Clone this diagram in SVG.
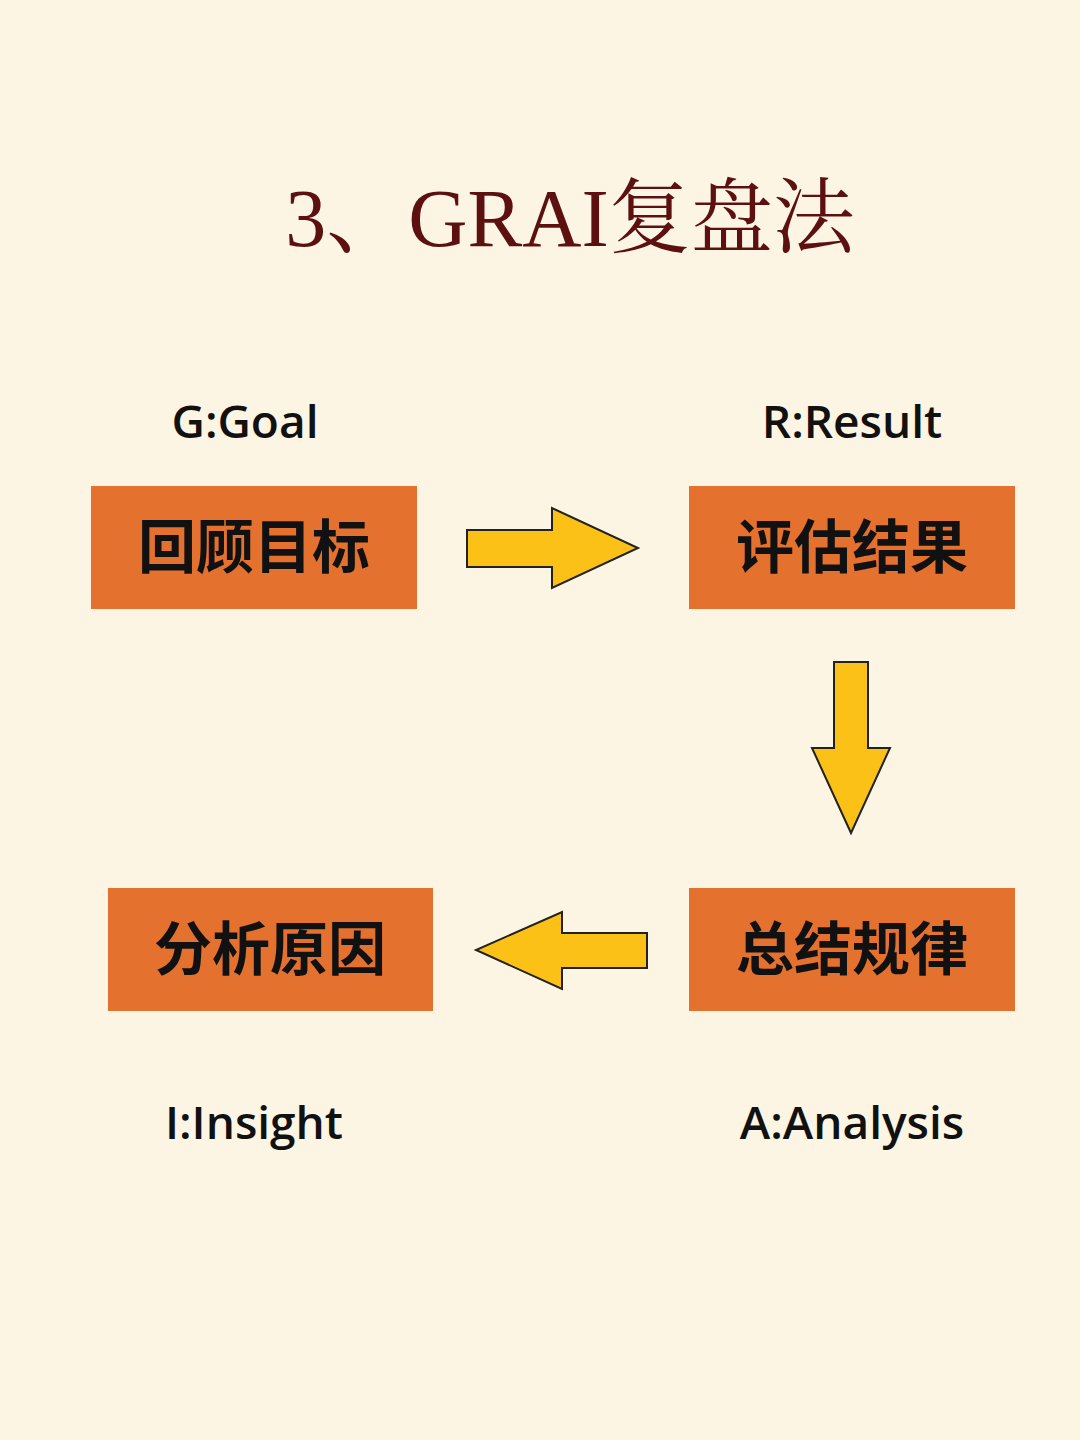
<svg xmlns="http://www.w3.org/2000/svg" width="1080" height="1440" viewBox="0 0 1080 1440">
<style>
.box{fill:#E5712F}
.bt{font-family:"Noto Sans CJK SC",sans-serif;font-weight:700;font-size:58px;fill:#111;text-anchor:middle}
.lb{font-family:"Open Sans","Noto Sans",sans-serif;font-weight:600;font-size:46px;fill:#111;text-anchor:middle}
.ar{fill:#FBC117;stroke:#222;stroke-width:2}
</style>
<rect width="1080" height="1440" fill="#FDF5E4"/>
<text x="570" y="246" font-family="Liberation Serif,'Noto Serif CJK SC','Noto Sans CJK SC',serif" font-size="82" fill="#5C1010" text-anchor="middle">3、GRAI复盘法</text>
<text class="lb" x="245" y="438">G:Goal</text>
<text class="lb" x="852" y="438">R:Result</text>
<text class="lb" x="254" y="1139">I:Insight</text>
<text class="lb" x="852" y="1139">A:Analysis</text>
<g id="n1"><rect class="box" x="91" y="486" width="326" height="123"/><text class="bt" x="254" y="568">回顾目标</text></g>
<g id="n2"><rect class="box" x="689" y="486" width="326" height="123"/><text class="bt" x="852" y="568">评估结果</text></g>
<g id="n3"><rect class="box" x="689" y="888" width="326" height="123"/><text class="bt" x="852" y="970">总结规律</text></g>
<g id="n4"><rect class="box" x="108" y="888" width="325" height="123"/><text class="bt" x="270" y="970">分析原因</text></g>
<g id="connectors">
<polygon class="ar" points="467,530 552,530 552,508 638,548 552,588 552,567 467,567"/>
<polygon class="ar" points="834,662 868,662 868,748 890,748 851,833 812,748 834,748"/>
<polygon class="ar" points="647,933 562,933 562,912 476,950 562,989 562,968 647,968"/>
</g>
</svg>
